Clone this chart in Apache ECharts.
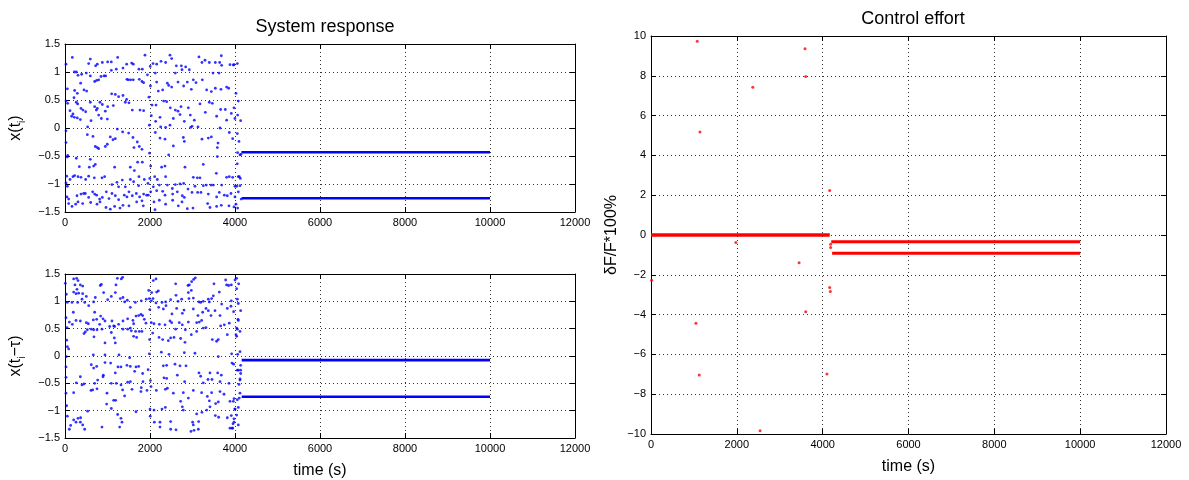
<!DOCTYPE html>
<html>
<head>
<meta charset="utf-8">
<script src="https://cdn.jsdelivr.net/npm/echarts@6/dist/echarts.min.js"></script>
<style>
  html, body { margin: 0; padding: 0; background: #fff; }
  #chart { width: 1189px; height: 480px; }
</style>
</head>
<body>
<div id="chart"></div>
<script>
// ---- data ----------------------------------------------------------------
const timeTicks = { min: 0, max: 12000, interval: 2000 };
const stateTicks = { min: -1.5, max: 1.5, interval: 0.5 };
const effortTicks = { min: -10, max: 10, interval: 2 };
const endTime = 10000;

// x(t_i): chaotic samples before the controller locks in, [time, value]
const xSamples = [
  [24,1.14],[172,1.26],[557,1.15],[721,1.11],[760,1.14],[596,1.23],[878,1.17],[1004,1.18],[1090,1.18],
  [1239,1.26],[1450,1.14],[1568,1.16],[1607,1.14],[1364,1.07],[1740,1.05],[1819,1.05],[1882,1.30],
  [220,1.0],[266,1.0],[306,0.94],[392,0.96],[502,0.98],[596,0.93],[698,0.83],[745,0.85],[792,0.86],
  [956,0.93],[1090,1.03],[1207,1.05],[1458,0.87],[1490,0.86],[1544,0.86],[1607,0.86],[1811,0.83],
  [1748,0.87],[1850,0.81],[847,0.92],[917,0.93],[368,0.80],[447,0.68],[510,0.66],[227,0.67],[290,0.62],
  [55,0.70],[24,0.48],[63,0.44],[212,0.54],[266,0.46],[298,0.43],[376,0.35],[423,0.32],[486,0.29],
  [188,0.25],[157,0.21],[220,0.19],[290,0.18],[596,0.46],[698,0.38],[737,0.32],[760,0.35],[823,0.46],
  [878,0.42],[949,0.30],[1098,0.61],[1184,0.60],[1262,0.56],[1364,0.58],[1419,0.46],[1450,0.51],
  [1505,0.45],[1584,0.32],[1764,0.32],[1850,0.31],[1137,0.40],[1004,0.38],[792,0.23],[855,0.17],
  [996,0.16],[612,0.13],[361,0.15],[118,0.31],[533,0.02],[24,-0.05],[24,-0.26],[658,-0.15],[525,-0.12],
  [713,-0.33],[760,-0.35],[792,-0.37],[949,-0.33],[996,-0.29],[1066,-0.16],[1129,-0.21],[1184,-0.19],
  [1231,-0.02],[1356,-0.07],[1497,-0.09],[1599,-0.17],[1623,-0.35],[1748,-0.33],[1811,-0.38],[1701,-0.25],
  [63,-0.49],[55,-0.52],[266,-0.54],[337,-0.69],[572,-0.70],[674,-0.68],[713,-0.65],[596,-0.56],
  [1168,-0.70],[1537,-0.70],[1709,-0.61],[1819,-0.61],[1631,-0.76],[1740,-0.87],[39,-0.86],[24,-0.98],
  [55,-1.04],[118,-0.92],[188,-0.87],[227,-0.85],[306,-0.87],[376,-0.88],[486,-0.92],[557,-0.86],
  [690,-0.89],[870,-0.89],[933,-0.87],[1105,-1.01],[1262,-1.05],[1223,-0.97],[1348,-0.93],[1419,-1.05],
  [1537,-0.92],[1615,-0.96],[1732,-1.03],[1866,-0.92],[1952,-0.99],[47,-1.23],[86,-1.27],[282,-1.21],
  [376,-1.18],[439,-1.17],[478,-1.17],[557,-1.24],[651,-1.14],[698,-1.18],[745,-1.20],[815,-1.27],
  [878,-1.24],[972,-1.14],[1035,-1.26],[1105,-1.17],[1184,-1.21],[1262,-1.28],[1396,-1.20],[1458,-1.23],
  [1505,-1.14],[1584,-1.21],[1678,-1.17],[1756,-1.23],[1850,-1.18],[1921,-1.20],[86,-1.35],[165,-1.40],
  [251,-1.36],[306,-1.32],[416,-1.35],[604,-1.33],[753,-1.36],[823,-1.32],[964,-1.42],[1066,-1.45],
  [1168,-1.40],[1294,-1.43],[1364,-1.38],[1505,-1.39],[1686,-1.32],[1811,-1.30],[1842,-1.39],
  [1975,0.55],[1990,-0.45],[2005,1.10],[1960,-1.20],[2010,0.75],[1995,-0.90],[1985,0.05],[1940,0.95],
  [2071,1.15],[2157,1.14],[2259,1.19],[2368,1.17],[2470,1.30],[2510,1.24],[2619,1.11],[2737,1.11],
  [2753,1.04],[2839,1.09],[2925,1.04],[3152,1.27],[3223,1.17],[3294,1.21],[3396,1.17],[3537,1.17],
  [3639,1.17],[3678,1.29],[3686,1.12],[3482,0.98],[3623,0.98],[3882,1.13],[3976,1.13],[2125,0.98],
  [2157,0.82],[2196,0.66],[2298,0.68],[2408,0.80],[2439,0.76],[2510,0.73],[2596,0.98],[2659,0.82],
  [2792,0.75],[2878,0.82],[2972,0.69],[3019,0.86],[3082,0.81],[3231,0.86],[3333,0.68],[3443,0.65],
  [3537,0.71],[3670,0.69],[3803,0.73],[3850,0.71],[4023,0.62],[2047,0.41],[2141,0.41],[2321,0.48],
  [2392,0.47],[2478,0.36],[2596,0.32],[2659,0.30],[2729,0.38],[2902,0.36],[2949,0.23],[3043,0.14],
  [3176,0.43],[3302,0.28],[3396,0.46],[3466,0.44],[3568,0.21],[3662,0.33],[3772,0.33],[3803,0.14],
  [3913,0.26],[3999,0.17],[4062,0.23],[2031,0.22],[2133,0.12],[2235,0.19],[2251,0.02],[2368,0.01],
  [2470,0.05],[2549,0.17],[2706,0.24],[2808,0.12],[2988,0.03],[3129,0.02],[2125,-0.08],[2235,-0.18],
  [2353,-0.20],[2549,-0.32],[2784,-0.17],[2808,-0.24],[2957,0.01],[3223,-0.20],[3372,-0.18],[3443,-0.16],
  [3600,-0.27],[3584,-0.35],[3647,0.0],[3866,-0.08],[3945,-0.19],[4054,-0.10],[2016,-0.68],[2274,-0.70],
  [2439,-0.48],[2353,-0.68],[2823,-0.70],[3254,-0.65],[3584,-0.51],[4062,-0.44],[4054,-0.64],[4117,-0.48],
  [2110,-0.87],[2172,-0.92],[2368,-0.87],[2078,-1.05],[2220,-1.02],[2298,-1.13],[2408,-1.02],[2525,-1.08],
  [2596,-1.01],[2706,-1.00],[2792,-0.99],[2894,-1.09],[3019,-0.88],[3113,-0.89],[3176,-0.89],[3058,-1.04],
  [3254,-1.03],[3325,-1.02],[3435,-1.02],[3490,-1.02],[3560,-0.81],[3686,-1.02],[3803,-0.88],[3866,-0.87],
  [3945,-0.88],[3999,-1.04],[4078,-0.87],[4117,-1.03],[2016,-1.14],[2157,-1.12],[2353,-1.20],[2533,-1.18],
  [2643,-1.14],[2760,-1.21],[2808,-1.24],[2988,-1.15],[3121,-1.15],[3200,-1.15],[3372,-1.18],[3568,-1.23],
  [3631,-1.15],[3749,-1.20],[3819,-1.21],[3905,-1.17],[3999,-1.23],[4078,-1.14],[2094,-1.32],[2220,-1.29],
  [2368,-1.36],[2533,-1.29],[2666,-1.39],[2753,-1.32],[2878,-1.44],[3011,-1.43],[3356,-1.35],[3411,-1.42],
  [3568,-1.40],[3678,-1.38],[3858,-1.39],[4023,-1.36],[4062,-1.43],[2118,-1.46],
  [3961,1.125],[4055,1.15],[4078,0.48],[4133,0.13],[4094,-0.24],[3976,0.36],[4102,-0.87],[4125,-0.90],
  [4039,-1.04],[3976,-1.41],[4140,-0.47],[4145,-1.27]
];

// x(t_i - tau): delayed state samples, [time, value]
const xDelaySamples = [
  [8,1.33],[31,1.13],[55,0.98],[24,0.70],[47,0.52],[39,0.29],[55,0.17],[86,0.13],[31,-0.01],[24,-0.20],
  [24,-0.39],[24,-0.68],[39,-0.91],[55,-1.10],[102,-1.34],[133,-1.27],[204,1.41],[274,1.42],[306,1.38],
  [235,1.30],[282,1.22],[361,1.30],[416,1.28],[204,1.17],[259,1.14],[321,1.15],[416,1.14],[502,1.09],
  [165,0.98],[298,0.98],[400,1.04],[463,0.98],[557,0.92],[674,0.99],[713,1.07],[831,1.29],[855,1.31],
  [909,1.16],[1004,1.03],[1090,1.09],[1199,1.30],[1231,1.42],[1325,1.41],[1356,1.44],[1184,1.16],
  [1301,1.05],[1364,1.07],[1403,0.99],[1466,1.02],[1537,0.89],[1654,0.98],[1795,1.01],[1913,1.04],
  [1984,1.05],[196,0.80],[102,0.62],[172,0.58],[259,0.65],[361,0.64],[502,0.61],[549,0.59],[666,0.66],
  [698,0.80],[745,0.67],[839,0.73],[894,0.68],[941,0.64],[815,0.58],[1051,0.54],[1105,0.64],[1145,0.55],
  [1262,0.58],[1364,0.64],[1474,0.68],[1599,0.65],[1615,0.59],[1670,0.73],[1733,0.74],[1787,0.76],
  [1827,0.74],[1866,0.67],[1905,0.60],[2031,0.61],[447,0.41],[478,0.44],[525,0.48],[619,0.49],[674,0.48],
  [753,0.48],[870,0.49],[682,0.35],[1090,0.43],[1168,0.54],[1160,0.33],[1184,0.24],[941,0.24],[1364,0.49],
  [1474,0.49],[1537,0.51],[1560,0.46],[1662,0.45],[1748,0.45],[1811,0.45],[1615,0.36],[1686,0.34],
  [666,0.02],[941,0.02],[1270,0.02],[1521,-0.03],[1984,0.04],[619,-0.16],[674,-0.22],[745,-0.19],
  [902,-0.35],[941,-0.12],[1074,-0.13],[1184,-0.31],[1247,-0.20],[1317,-0.20],[1458,-0.17],[1537,-0.19],
  [1670,-0.20],[1733,-0.19],[1639,-0.28],[1827,-0.32],[1835,-0.47],[1795,-0.58],[1537,-0.47],[1474,-0.48],
  [1317,-0.53],[1207,-0.50],[1090,-0.50],[894,-0.38],[768,-0.44],[698,-0.50],[447,-0.51],[266,-0.49],
  [204,-0.67],[361,-0.38],[400,-0.53],[612,-0.63],[651,-0.62],[753,-0.60],[988,-0.68],[1145,-0.81],
  [1192,-0.81],[1356,-0.62],[1403,-0.73],[1576,-0.61],[1787,-0.65],[1929,-0.63],[980,-0.88],[1090,-0.96],
  [1670,-1.02],[2000,-0.97],[1239,-1.07],[1317,-1.14],[1341,-1.21],[1286,-1.30],[870,-1.30],[533,-1.01],
  [306,-1.14],[368,-1.13],[361,-1.21],[416,-1.26],[463,-1.34],[259,-1.21],[204,-1.17],
  [1990,0.30],[2010,-0.45],[1970,1.20],[2005,-1.10],[1995,0.85],[1955,-0.25],
  [2078,1.38],[2141,1.41],[2157,1.17],[2196,1.19],[2071,1.05],[2031,1.01],[2141,0.97],[2282,0.98],
  [2368,0.99],[2486,1.03],[2604,1.32],[2612,1.11],[2659,1.00],[2745,1.04],[2894,1.29],[2925,1.30],
  [2980,1.36],[3027,1.40],[3066,1.43],[2972,1.20],[2902,1.16],[3019,1.06],[2917,1.05],[3152,0.99],
  [3192,0.98],[3254,1.00],[3372,1.04],[3396,0.99],[3450,1.05],[3505,1.32],[3490,1.10],[3631,1.17],
  [3780,1.39],[3803,1.30],[3850,1.29],[3913,1.30],[3913,1.01],[4038,1.42],[4086,1.32],[2039,1.16],
  [2204,0.89],[2314,0.86],[2376,0.92],[2517,0.77],[2627,0.87],[2761,0.78],[2800,0.84],[3019,0.86],
  [3129,0.74],[3239,0.80],[3317,0.87],[3372,0.83],[3435,0.74],[3529,0.83],[3647,0.74],[3686,0.95],
  [3819,0.87],[3905,0.91],[3968,0.81],[4070,0.67],[2094,0.59],[2220,0.58],[2353,0.57],[2470,0.64],
  [2510,0.61],[2604,0.49],[2690,0.61],[2760,0.57],[2831,0.48],[2902,0.62],[3098,0.61],[3160,0.62],
  [3215,0.65],[3254,0.51],[3317,0.52],[3662,0.55],[3749,0.57],[3866,0.60],[4038,0.51],[2063,0.42],
  [2212,0.34],[2298,0.30],[2431,0.28],[2486,0.33],[2565,0.34],[2721,0.32],[2823,0.25],[2972,0.39],
  [3098,0.45],[3466,0.30],[3568,0.27],[3607,0.30],[3819,0.39],[4023,0.39],[4117,0.45],[2267,0.07],
  [2447,0.03],[2808,0.06],[3058,0.05],[3607,-0.01],[3921,0.04],[4062,0.03],[4133,-0.17],[2314,-0.18],
  [2392,-0.17],[2588,-0.15],[2706,-0.18],[2847,-0.18],[3152,-0.31],[3192,-0.37],[3411,-0.31],[3592,-0.31],
  [3678,-0.35],[3929,-0.13],[3968,-0.15],[4078,-0.26],[4133,-0.32],[2329,-0.40],[2392,-0.41],[2643,-0.35],
  [2815,-0.47],[3254,-0.49],[3364,-0.43],[3458,-0.43],[3647,-0.47],[3858,-0.50],[4117,-0.44],[2024,-0.56],
  [2149,-0.63],[2361,-0.61],[2408,-0.59],[2549,-0.68],[2784,-0.67],[3019,-0.63],[3215,-0.67],[3450,-0.67],
  [3647,-0.65],[3741,-0.70],[3976,-0.78],[4054,-0.80],[4101,-0.77],[4117,-0.68],[2721,-0.83],[2902,-0.77],
  [3349,-0.74],[3396,-0.82],[3545,-0.87],[3607,-0.84],[3882,-0.83],[2094,-0.99],[2282,-0.97],[2361,-0.94],
  [2761,-0.93],[2784,-0.99],[3098,-1.06],[3223,-1.03],[3333,-0.99],[3411,-0.93],[3537,-1.09],[3615,-1.12],
  [3819,-1.13],[3913,-1.09],[3999,-0.97],[4078,-0.94],[2102,-1.21],[2235,-1.21],[2486,-1.20],[3003,-1.21],
  [3145,-1.20],[3019,-1.26],[2612,-1.35],[2486,-1.34],[2235,-1.30],[3035,-1.36],[3137,-1.34],[2964,-1.38],
  [3882,-1.32],[3945,-1.32],[3976,-1.21],[4078,-1.26],[3976,-1.15],
  [4000,1.39],[4039,1.23],[4055,1.04],[4078,0.96],[4133,0.83],[4078,0.65],[4055,0.49],[4039,0.36],
  [4118,0.08],[4055,-0.26],[4133,-0.26],[4118,-0.42],[4094,-0.52],[3961,-0.83],[4000,-0.97],[4039,-1.08],
  [3953,-1.24],[3929,-1.32]
];

// settled period-2 orbit: [start time, level]
const xSettled = [[4150, -0.434], [4157, -1.255]];
const xDelaySettled = [[4157, -0.075], [4157, -0.745]];

// control effort δF/F in percent
const effortIdle = [[0, 0], [4165, 0]];
const effortKicks = [
  [15,-2.27],[1047,-4.43],[1077,9.74],[1124,-7.03],[1140,5.17],[1977,-0.38],[2372,7.42],[2542,-9.84],
  [3450,-1.39],[3589,9.36],[3605,7.97],[3605,-3.86],[4100,-6.98],[4163,2.23],[4163,-2.64],[4178,-2.84],
  [4185,-0.46],[4185,-0.63]
];
const effortSettled = [[4200, -0.34], [4220, -0.92]];

// ---- styling helpers -----------------------------------------------------
const FONT = 'Liberation Sans, Arial, Helvetica, sans-serif';
const minusFix = v => String(v).replace('-', '\u2212');

function xAxes(gridIndex, withName) {
  const base = {
    type: 'value', gridIndex, min: timeTicks.min, max: timeTicks.max, interval: timeTicks.interval,
    axisLine: { show: true, onZero: false, lineStyle: { color: '#000', width: 1 } },
    axisTick: { show: true, inside: true, length: 5, lineStyle: { color: '#000' } }
  };
  return [
    Object.assign({}, base, {
      position: 'bottom',
      axisLabel: { color: '#000', fontSize: 11, fontFamily: FONT, margin: 5, formatter: v => String(v) },
      splitLine: { show: true, lineStyle: { color: '#333', type: [1, 3], width: 1 } },
      name: withName ? 'time (s)' : '', nameLocation: 'middle', nameGap: 25,
      nameTextStyle: { color: '#000', fontSize: 16, fontFamily: FONT }
    }),
    Object.assign({}, base, { position: 'top', axisLabel: { show: false }, splitLine: { show: false } })
  ];
}

function yAxes(gridIndex, ticks, name, gap, rich) {
  const base = {
    type: 'value', gridIndex, min: ticks.min, max: ticks.max, interval: ticks.interval,
    axisLine: { show: true, onZero: false, lineStyle: { color: '#000', width: 1 } },
    axisTick: { show: true, inside: true, length: 5, lineStyle: { color: '#000' } }
  };
  return [
    Object.assign({}, base, {
      position: 'left',
      axisLabel: { color: '#000', fontSize: 11, fontFamily: FONT, margin: 5, formatter: minusFix },
      splitLine: { show: true, lineStyle: { color: '#333', type: [1, 3], width: 1 } },
      name, nameLocation: 'middle', nameGap: gap, nameRotate: 90,
      nameTextStyle: {
        color: '#000', fontSize: 16, fontFamily: FONT, lineHeight: 22,
        rich: rich || {}
      }
    }),
    Object.assign({}, base, { position: 'right', axisLabel: { show: false }, splitLine: { show: false } })
  ];
}

const subRich = {
  m: { fontSize: 16, fontFamily: FONT, color: '#000', lineHeight: 22 },
  s: { fontSize: 10, fontFamily: FONT, color: '#000', lineHeight: 8, verticalAlign: 'bottom' }
};

const lineFrom = (pts) => pts.map(([t0, v]) => [[t0, v], [endTime, v]]);

const chart = echarts.init(document.getElementById('chart'), null, { renderer: 'canvas' });

const series = [];
// panel 0: x(t_i)
series.push({ type: 'scatter', xAxisIndex: 0, yAxisIndex: 0, data: xSamples, symbol: 'circle', symbolSize: 2.8,
  itemStyle: { color: '#0000ff' }, silent: true });
lineFrom(xSettled).forEach(d => series.push({ type: 'line', xAxisIndex: 0, yAxisIndex: 0, data: d, showSymbol: false,
  lineStyle: { color: '#0000ff', width: 2.6 }, silent: true }));
// panel 1: x(t_i - tau)
series.push({ type: 'scatter', xAxisIndex: 2, yAxisIndex: 2, data: xDelaySamples, symbol: 'circle', symbolSize: 2.8,
  itemStyle: { color: '#0000ff' }, silent: true });
lineFrom(xDelaySettled).forEach(d => series.push({ type: 'line', xAxisIndex: 2, yAxisIndex: 2, data: d, showSymbol: false,
  lineStyle: { color: '#0000ff', width: 2.6 }, silent: true }));
// panel 2: control effort
series.push({ type: 'line', xAxisIndex: 4, yAxisIndex: 4, data: effortIdle, showSymbol: false,
  lineStyle: { color: '#ff0000', width: 3.5 }, silent: true });
lineFrom(effortSettled).forEach(d => series.push({ type: 'line', xAxisIndex: 4, yAxisIndex: 4, data: d, showSymbol: false,
  lineStyle: { color: '#ff0000', width: 3 }, silent: true }));
series.push({ type: 'scatter', xAxisIndex: 4, yAxisIndex: 4, data: effortKicks, symbol: 'circle', symbolSize: 3,
  itemStyle: { color: '#ff0000' }, silent: true });

chart.setOption({
  animation: false,
  backgroundColor: '#fff',
  title: [
    { text: 'System response', left: 320, top: 13, textAlign: 'center',
      textStyle: { fontSize: 18, fontWeight: 'normal', color: '#000', fontFamily: FONT } },
    { text: 'Control effort', left: 908, top: 5, textAlign: 'center',
      textStyle: { fontSize: 18, fontWeight: 'normal', color: '#000', fontFamily: FONT } }
  ],
  grid: [
    { left: 65, top: 44, width: 510, height: 168 },
    { left: 65, top: 274, width: 510, height: 169 },
    { left: 651, top: 36, width: 515, height: 406 }
  ],
  xAxis: [...xAxes(0, false), ...xAxes(1, true), ...xAxes(2, true)],
  yAxis: [
    ...yAxes(0, stateTicks, '{m|x(t}{s|i}{m|)}', 38, subRich),
    ...yAxes(1, stateTicks, '{m|x(t}{s|i}{m|\u2212\u03c4)}', 38, subRich),
    ...yAxes(2, effortTicks, '\u03b4F/F*100%', 28)
  ],
  series
});
</script>
</body>
</html>
